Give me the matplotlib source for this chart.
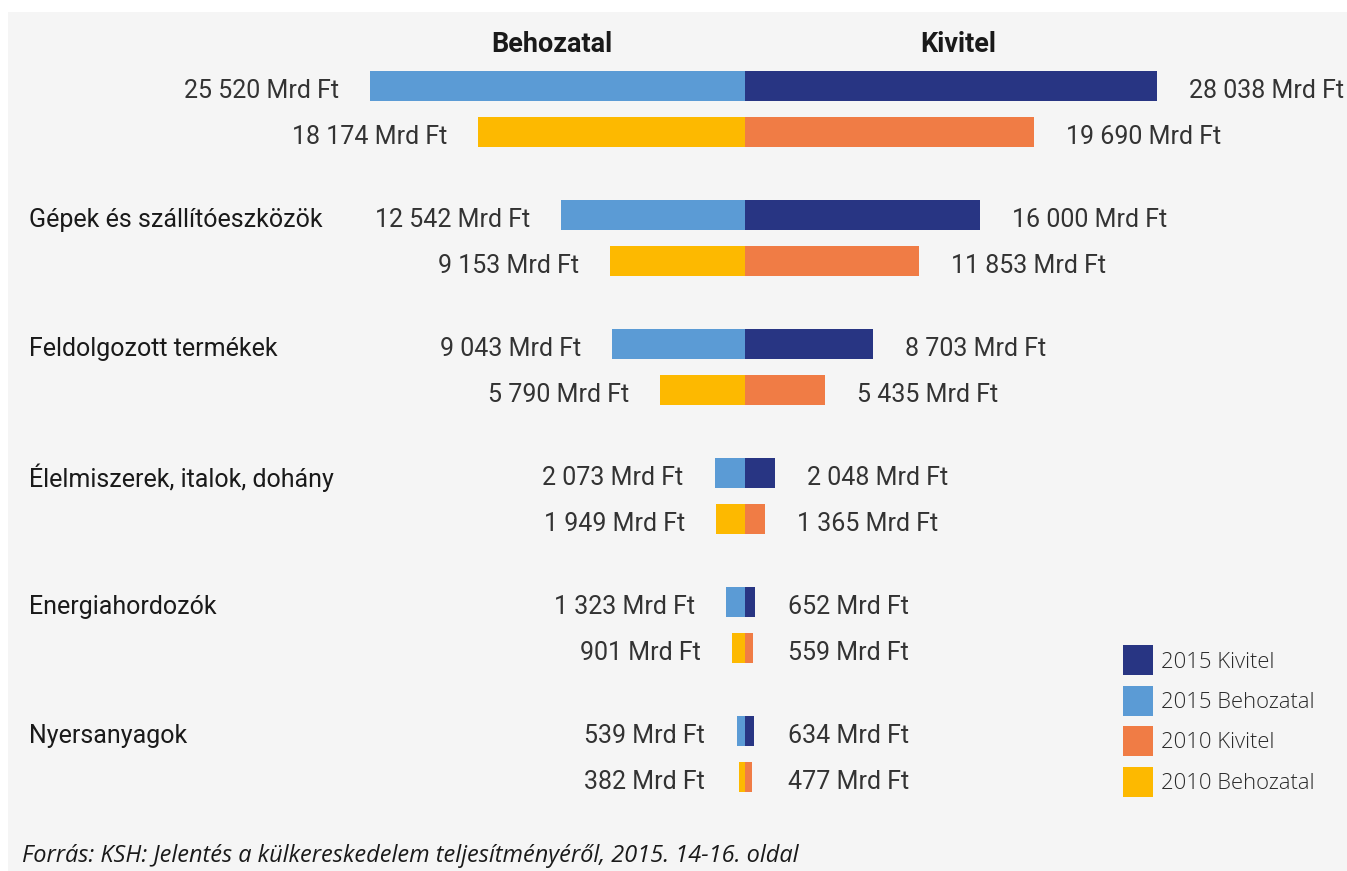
import numpy as np
import matplotlib.pyplot as plt
from matplotlib.patches import Rectangle

# Külkereskedelem termékcsoportonként, Mrd Ft
categories = ["", "Gépek és szállítóeszközök", "Feldolgozott termékek",
              "Élelmiszerek, italok, dohány", "Energiahordozók", "Nyersanyagok"]
import_2015 = [25520, 12542, 9043, 2073, 1323, 539]
export_2015 = [28038, 16000, 8703, 2048, 652, 634]
import_2010 = [18174, 9153, 5790, 1949, 901, 382]
export_2010 = [19690, 11853, 5435, 1365, 559, 477]

c_exp15 = "#283583"
c_imp15 = "#5b9bd5"
c_exp10 = "#f07c45"
c_imp10 = "#fdb900"
txt = "#333333"

W, H = 1347, 871
DPI = 72
fig = plt.figure(figsize=(W / DPI, H / DPI), dpi=DPI)
fig.patch.set_facecolor("white")
fig.patches.append(Rectangle((8 / W, 0), 1, 1 - 12 / H, transform=fig.transFigure,
                             facecolor="#f5f5f5", edgecolor="none", zorder=-10))

ax = fig.add_axes([0, 0, 1, 1])
ax.set_facecolor("none")
scale = 0.0147          # pixel per Mrd Ft
cx = 745                # zero line in pixels
ax.set_xlim(-cx / scale, (W - cx) / scale)
ax.set_ylim(H, 0)
ax.axis("off")
px = 1 / scale          # one pixel in data units

fs = 25
rows = np.arange(len(categories)) * 129 + 86
bh = 30
gap = 46
dy = 5                  # text sits a little below the bar centre

def fmt(v):
    return f"{v:,}".replace(",", " ") + " Mrd Ft"

for i, y in enumerate(rows):
    y2 = y + gap
    ax.barh(y, -import_2015[i], height=bh, color=c_imp15, left=0)
    ax.barh(y, export_2015[i], height=bh, color=c_exp15, left=0)
    ax.barh(y2, -import_2010[i], height=bh, color=c_imp10, left=0)
    ax.barh(y2, export_2010[i], height=bh, color=c_exp10, left=0)
    for yy, li, ri in [(y, import_2015[i], export_2015[i]),
                       (y2, import_2010[i], export_2010[i])]:
        xl = min(-li - 31 * px, -40 * px)
        xr = max(ri + 32 * px, 43 * px)
        ax.text(xl, yy + dy, fmt(li), ha="right", va="center", fontsize=fs,
                family="Roboto", color=txt)
        ax.text(xr, yy + dy, fmt(ri), ha="left", va="center", fontsize=fs,
                family="Roboto", color=txt)
    if categories[i]:
        ax.text(-(cx - 29) * px, y + dy, categories[i], ha="left", va="center",
                fontsize=fs, family="Roboto", color="#1a1a1a")

ax.text(-(cx - 552) * px, 44, "Behozatal", ha="center", va="center", fontsize=27,
        family="Roboto", fontweight="bold", color="#1a1a1a")
ax.text((958 - cx) * px, 44, "Kivitel", ha="center", va="center", fontsize=27,
        family="Roboto", fontweight="bold", color="#1a1a1a")

# jelmagyarázat
legend_items = [("2015 Kivitel", c_exp15), ("2015 Behozatal", c_imp15),
                ("2010 Kivitel", c_exp10), ("2010 Behozatal", c_imp10)]
for k, (lab, col) in enumerate(legend_items):
    ly = 660 + k * 40.5
    fig.patches.append(Rectangle((1123 / W, 1 - (ly + 15) / H), 30 / W, 30 / H,
                                 transform=fig.transFigure, facecolor=col,
                                 edgecolor="none", zorder=2))
    fig.text(1161 / W, 1 - (ly + 2) / H, lab, ha="left", va="center", fontsize=22,
             family="Open Sans", fontweight="light", color="#2a2a2a")

fig.text(22 / W, 1 - 856 / H,
         "Forrás: KSH: Jelentés a külkereskedelem teljesítményéről, 2015. 14-16. oldal",
         ha="left", va="center", fontsize=23.5, family="Open Sans", style="italic",
         color="#1a1a1a")

fig.savefig("out.png", dpi=DPI)
